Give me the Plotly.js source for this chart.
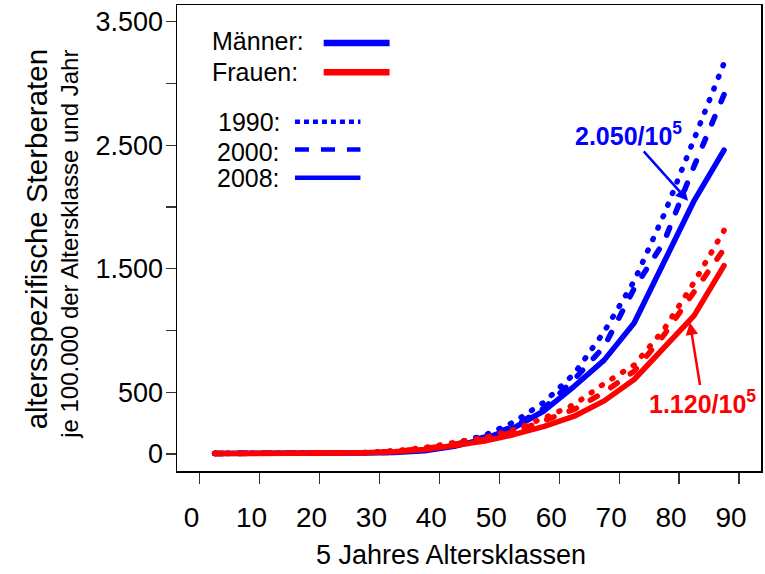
<!DOCTYPE html>
<html><head><meta charset="utf-8">
<script src="https://cdn.plot.ly/plotly-3.0.1.min.js"></script>
<style>
html,body{margin:0;padding:0;background:#fff;}
#chart{width:765px;height:574px;}
.scatterlayer path.js-line{stroke-linecap:round !important;stroke-linejoin:round !important;}
</style></head><body><div id="chart"></div>
<script>
// 5-year age classes (midpoints)
const ages = [2.5,7.5,12.5,17.5,22.5,27.5,32.5,37.5,42.5,47.5,52.5,57.5,62.5,67.5,72.5,77.5,82.5,87.5];
// deaths per 100.000 per age class and year
const maenner1990 = [5,4,4,6,8,11,18,36,85,150,260,420,650,990,1400,1940,2550,3165];
const maenner2000 = [4,3,3,5,7,9,15,30,75,137,225,372,603,870,1340,1720,2330,2910];
const maenner2008 = [4,3,3,4,6,8,12,25,62,122,213,350,548,760,1060,1555,2050,2460];
const frauen1990  = [4,3,3,5,7,12,25,52,90,132,198,292,400,570,720,1010,1390,1810];
const frauen2000  = [3,3,3,4,6,10,21,43,78,117,180,266,362,500,670,965,1322,1660];
const frauen2008  = [3,2,2,3,5,9,18,36,68,104,158,224,306,430,603,855,1120,1525];
const xTicks = [0,10,20,30,40,50,60,70,80,90];
const yTicks = [0,500,1500,2500,3500];
const yTickText = ['0','500','1.500','2.500','3.500'];
const yMinorTicks = [1000,2000,3000];

const BLUE = '#0000ff', RED = '#ff0000';
const FONT = 'Liberation Sans, Arial, sans-serif';
const W = 5.5;
const DOT = '1px,11.5px', DASH = '8px,16px';

function tr(y, color, dash){
  return {x: ages, y: y, type:'scatter', mode:'lines', hoverinfo:'skip',
          line:{color:color, width:W, dash:dash}, showlegend:false};
}
const data = [
  tr(maenner1990, BLUE, DOT), tr(maenner2000, BLUE, DASH), tr(maenner2008, BLUE, 'solid'),
  tr(frauen1990, RED, DOT), tr(frauen2000, RED, DASH), tr(frauen2008, RED, 'solid')
];

function legLine(x0,x1,y,color,width,dash){
  return {type:'line', xref:'paper', yref:'paper', x0:x0, x1:x1, y0:y, y1:y,
          line:{color:color, width:width, dash:dash||'solid'}};
}
function txt(x,y,t,opts){
  return Object.assign({xref:'paper', yref:'paper', x:x, y:y, text:t, showarrow:false,
    xanchor:'left', yanchor:'middle', font:{family:FONT, size:25, color:'#000'}}, opts||{});
}

const layout = {
  width:765, height:574,
  margin:{l:177, r:4, t:5, b:103},
  paper_bgcolor:'#fff', plot_bgcolor:'#fff',
  showlegend:false,
  xaxis:{range:[-3.78,93.67], tickvals:xTicks, ticks:'outside', ticklen:11, tickwidth:1.3, tickcolor:'#333',
         showline:true, mirror:true, linecolor:'#000', linewidth:1.5, showgrid:false, zeroline:false,
         tickfont:{family:FONT, size:28, color:'#000'}, ticklabelshift:-8, ticklabelstandoff:10},
  yaxis:{range:[-138,3636], tickvals:yTicks, ticktext:yTickText, ticks:'outside', ticklen:10, tickwidth:1.3, tickcolor:'#333',
         showline:true, mirror:true, linecolor:'#000', linewidth:1.5, showgrid:false, zeroline:false,
         tickfont:{family:FONT, size:27, color:'#000'}, ticklabelstandoff:-3,
         minor:{tickvals:yMinorTicks, ticks:'outside', ticklen:10, tickwidth:1.3, tickcolor:'#333', showgrid:false}},
  shapes:[
    legLine(0.2512,0.3640,0.9185,BLUE,6.5),
    legLine(0.2512,0.3640,0.8558,RED,6.5),
    legLine(0.2020,0.3141,0.7494,BLUE,4.5,'5px,4px'),
    legLine(0.2020,0.3141,0.6899,BLUE,4.5,'14px,12px'),
    legLine(0.2020,0.3141,0.6292,BLUE,4.5)
  ],
  annotations:[
    txt(0.0570,0.9217,'Männer:'),
    txt(0.0570,0.8552,'Frauen:'),
    txt(0.0670,0.7479,'1990:'),
    txt(0.0650,0.6856,'2000:'),
    txt(0.0650,0.6288,'2008:'),
    {x:81.5, y:2050, xref:'x', yref:'y', text:'<b>2.050/10<sup>5</sup></b>', showarrow:true,
     ax:-60, ay:-67, arrowcolor:BLUE, arrowwidth:2.5, arrowhead:2, arrowsize:1,
     font:{family:FONT, size:25, color:BLUE}},
    {x:81.8, y:1065, xref:'x', yref:'y', text:'<b>1.120/10<sup>5</sup></b>', showarrow:true,
     ax:13, ay:80, arrowcolor:RED, arrowwidth:2.5, arrowhead:2, arrowsize:1,
     font:{family:FONT, size:25, color:RED}},
    txt(0.4694,-0.1800,'5 Jahres Altersklassen',{xanchor:'center', font:{family:FONT,size:27,color:'#000'}}),
    txt(-0.2391,0.4979,'altersspezifische Sterberaten',{xanchor:'center', textangle:-90, font:{family:FONT,size:29.5,color:'#000'}}),
    txt(-0.1843,0.4861,'je 100.000 der Altersklasse und Jahr',{xanchor:'center', textangle:-90, font:{family:FONT,size:24,color:'#000'}})
  ]
};
Plotly.newPlot('chart', data, layout, {displayModeBar:false, staticPlot:true});
</script></body></html>
